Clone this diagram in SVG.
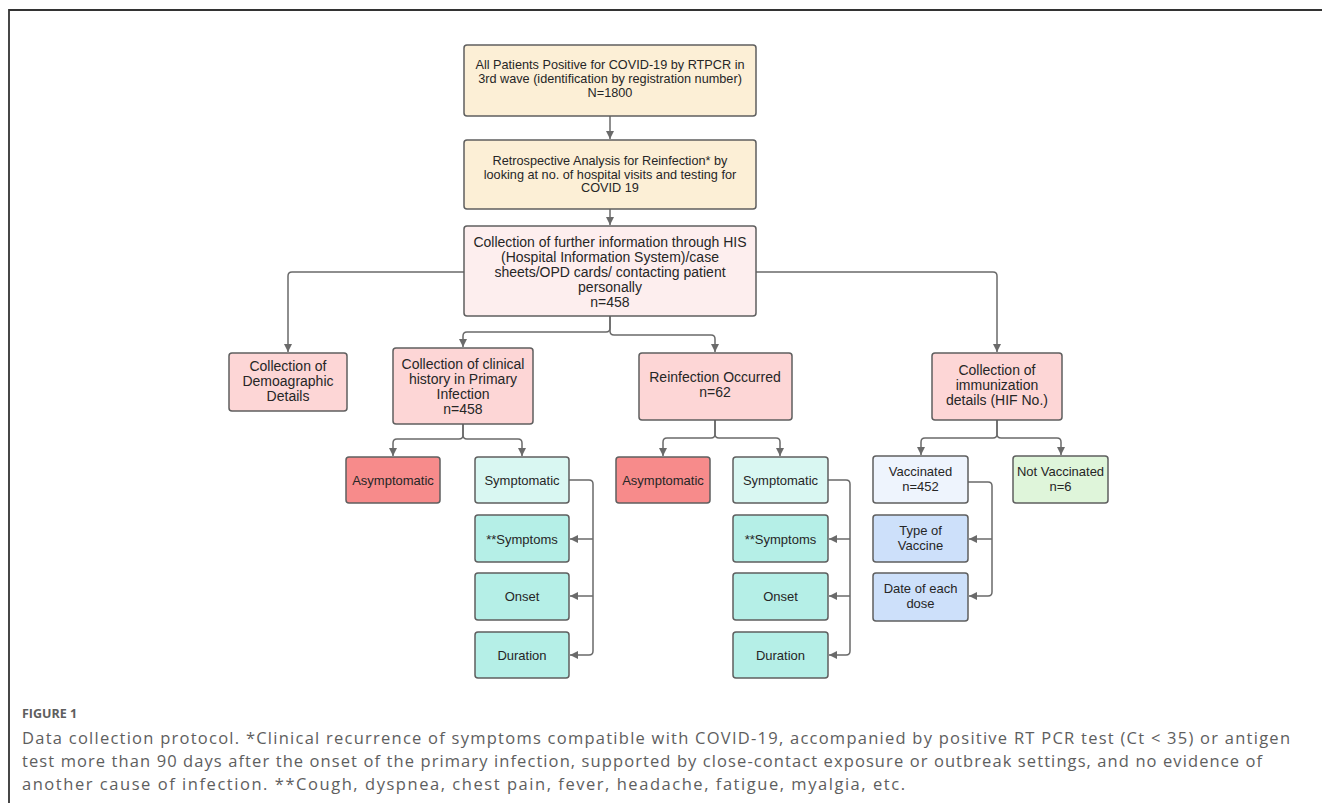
<svg xmlns="http://www.w3.org/2000/svg" width="1322" height="803" viewBox="0 0 1322 803">
<style>
.bx{stroke:#5f5f5f;stroke-width:1.5}
.t{font-family:"Liberation Sans",Arial,sans-serif;fill:#262626;text-anchor:middle}
.t12{font-size:12.7px}
.t13{font-size:13px}
.t14{font-size:14px}
.c{fill:none;stroke:#6a6a6a;stroke-width:1.5}
.peach{fill:#fcefd6}
.lpink{fill:#fdeeee}
.pink{fill:#fdd6d6}
.red{fill:#f78b8b}
.lcyan{fill:#d9f7f2}
.cyan{fill:#b5efe7}
.lblue{fill:#eef4fd}
.blue{fill:#cde0fa}
.green{fill:#dff5da}
.cap{font-family:"Open Sans","Liberation Sans",sans-serif;fill:#5e5e5e}
</style>
<defs>
<marker id="ah" viewBox="0 0 10 10" refX="10" refY="5" markerWidth="8" markerHeight="8" markerUnits="userSpaceOnUse" orient="auto">
<path d="M0,0 L10,5 L0,10 z" fill="#6a6a6a"/>
</marker>
</defs>
<rect width="1322" height="803" fill="#ffffff"/>
<path d="M9,803 V10 H1322" fill="none" stroke="#333" stroke-width="1.8"/>

<g id="connectors">
<path class="c" d="M610,116 V139" marker-end="url(#ah)"/>
<path class="c" d="M610,209 V225" marker-end="url(#ah)"/>
<path class="c" d="M464,272 H292 Q288,272 288,276 V352" marker-end="url(#ah)"/>
<path class="c" d="M756,272 H993 Q997,272 997,276 V352" marker-end="url(#ah)"/>
<path class="c" d="M610,316 V328 Q610,332 606,332 H467 Q463,332 463,336 V347" marker-end="url(#ah)"/>
<path class="c" d="M610,316 V331 Q610,335 614,335 H711 Q715,335 715,339 V352" marker-end="url(#ah)"/>
<path class="c" d="M463,424 V435 Q463,439 459,439 H397 Q393,439 393,443 V456" marker-end="url(#ah)"/>
<path class="c" d="M463,424 V435 Q463,439 467,439 H518 Q522,439 522,443 V456" marker-end="url(#ah)"/>
<path class="c" d="M715,420 V434 Q715,438 711,438 H667 Q663,438 663,442 V456" marker-end="url(#ah)"/>
<path class="c" d="M715,420 V434 Q715,438 719,438 H776 Q780,438 780,442 V456" marker-end="url(#ah)"/>
<path class="c" d="M997,420 V434 Q997,438 993,438 H925 Q921,438 921,442 V455" marker-end="url(#ah)"/>
<path class="c" d="M997,420 V434 Q997,438 1001,438 H1057 Q1061,438 1061,442 V455" marker-end="url(#ah)"/>
<path class="c" d="M569,480 H589 Q593,480 593,484 V651 Q593,655 589,655 H570" marker-end="url(#ah)"/>
<path class="c" d="M593,539 H570" marker-end="url(#ah)"/>
<path class="c" d="M593,596 H570" marker-end="url(#ah)"/>
<path class="c" d="M828,480 H846 Q850,480 850,484 V651 Q850,655 846,655 H829" marker-end="url(#ah)"/>
<path class="c" d="M850,539 H829" marker-end="url(#ah)"/>
<path class="c" d="M850,596 H829" marker-end="url(#ah)"/>
<path class="c" d="M968,482 H988 Q992,482 992,486 V592 Q992,596 988,596 H969" marker-end="url(#ah)"/>
<path class="c" d="M992,539 H969" marker-end="url(#ah)"/>
</g>

<g id="n-all">
<rect class="bx peach" x="464" y="45" width="292" height="71" rx="3"/>
<text class="t t12" x="610" y="69">All Patients Positive for COVID-19 by RTPCR in</text>
<text class="t t12" x="610" y="83">3rd wave (identification by registration number)</text>
<text class="t t12" x="610" y="97">N=1800</text>
</g>
<g id="n-retro">
<rect class="bx peach" x="464" y="140" width="292" height="69" rx="3"/>
<text class="t t12" x="610" y="165">Retrospective Analysis for Reinfection* by</text>
<text class="t t12" x="610" y="178.5">looking at no. of hospital visits and testing for</text>
<text class="t t12" x="610" y="192">COVID 19</text>
</g>
<g id="n-collect">
<rect class="bx lpink" x="464" y="226" width="292" height="90" rx="3"/>
<text class="t t14" x="610" y="247">Collection of further information through HIS</text>
<text class="t t14" x="610" y="262">(Hospital Information System)/case</text>
<text class="t t14" x="610" y="277">sheets/OPD cards/ contacting patient</text>
<text class="t t14" x="610" y="292">personally</text>
<text class="t t14" x="610" y="307">n=458</text>
</g>
<g id="n-demo">
<rect class="bx pink" x="229" y="353" width="118" height="58" rx="3"/>
<text class="t t14" x="288" y="371">Collection of</text>
<text class="t t14" x="288" y="386">Demoagraphic</text>
<text class="t t14" x="288" y="401">Details</text>
</g>
<g id="n-clinical">
<rect class="bx pink" x="393" y="348" width="140" height="76" rx="3"/>
<text class="t t14" x="463" y="369">Collection of clinical</text>
<text class="t t14" x="463" y="384">history in Primary</text>
<text class="t t14" x="463" y="399">Infection</text>
<text class="t t14" x="463" y="414">n=458</text>
</g>
<g id="n-reinf">
<rect class="bx pink" x="639" y="353" width="153" height="67" rx="3"/>
<text class="t t14" x="715" y="382">Reinfection Occurred</text>
<text class="t t14" x="715" y="397">n=62</text>
</g>
<g id="n-immun">
<rect class="bx pink" x="932" y="353" width="130" height="67" rx="3"/>
<text class="t t14" x="997" y="375">Collection of</text>
<text class="t t14" x="997" y="390">immunization</text>
<text class="t t14" x="997" y="405">details (HIF No.)</text>
</g>
<g id="n-asym1">
<rect class="bx red" x="346" y="457" width="94" height="46" rx="3"/>
<text class="t t13" x="393" y="484.5">Asymptomatic</text>
</g>
<g id="n-sym1">
<rect class="bx lcyan" x="475" y="457" width="94" height="46" rx="3"/>
<text class="t t13" x="522" y="484.5">Symptomatic</text>
</g>
<g id="n-symptoms1">
<rect class="bx cyan" x="475" y="515" width="94" height="47" rx="3"/>
<text class="t t13" x="522" y="543.5">**Symptoms</text>
</g>
<g id="n-onset1">
<rect class="bx cyan" x="475" y="573" width="94" height="47" rx="3"/>
<text class="t t13" x="522" y="600.5">Onset</text>
</g>
<g id="n-duration1">
<rect class="bx cyan" x="475" y="632" width="94" height="46" rx="3"/>
<text class="t t13" x="522" y="659.5">Duration</text>
</g>
<g id="n-asym2">
<rect class="bx red" x="616" y="457" width="94" height="46" rx="3"/>
<text class="t t13" x="663" y="484.5">Asymptomatic</text>
</g>
<g id="n-sym2">
<rect class="bx lcyan" x="733" y="457" width="95" height="46" rx="3"/>
<text class="t t13" x="780.5" y="484.5">Symptomatic</text>
</g>
<g id="n-symptoms2">
<rect class="bx cyan" x="733" y="515" width="95" height="47" rx="3"/>
<text class="t t13" x="780.5" y="543.5">**Symptoms</text>
</g>
<g id="n-onset2">
<rect class="bx cyan" x="733" y="573" width="95" height="47" rx="3"/>
<text class="t t13" x="780.5" y="600.5">Onset</text>
</g>
<g id="n-duration2">
<rect class="bx cyan" x="733" y="632" width="95" height="46" rx="3"/>
<text class="t t13" x="780.5" y="659.5">Duration</text>
</g>
<g id="n-vacc">
<rect class="bx lblue" x="873" y="456" width="95" height="47" rx="3"/>
<text class="t t13" x="920.5" y="475.5">Vaccinated</text>
<text class="t t13" x="920.5" y="490.5">n=452</text>
</g>
<g id="n-type">
<rect class="bx blue" x="873" y="515" width="95" height="47" rx="3"/>
<text class="t t13" x="920.5" y="534.5">Type of</text>
<text class="t t13" x="920.5" y="549.5">Vaccine</text>
</g>
<g id="n-date">
<rect class="bx blue" x="873" y="573" width="95" height="48" rx="3"/>
<text class="t t13" x="920.5" y="592.5">Date of each</text>
<text class="t t13" x="920.5" y="607.5">dose</text>
</g>
<g id="n-notvacc">
<rect class="bx green" x="1013" y="456" width="95" height="47" rx="3"/>
<text class="t t13" x="1060.5" y="475.5">Not Vaccinated</text>
<text class="t t13" x="1060.5" y="490.5">n=6</text>
</g>

<g id="caption">
<text class="cap" x="22" y="718" font-size="12.5" font-weight="bold">FIGURE 1</text>
<text class="cap" x="22" y="744" font-size="16.5" textLength="1268" lengthAdjust="spacing">Data collection protocol. *Clinical recurrence of symptoms compatible with COVID-19, accompanied by positive RT PCR test (Ct &lt; 35) or antigen</text>
<text class="cap" x="22" y="767" font-size="16.5" textLength="1240" lengthAdjust="spacing">test more than 90 days after the onset of the primary infection, supported by close-contact exposure or outbreak settings, and no evidence of</text>
<text class="cap" x="22" y="790" font-size="16.5" textLength="883" lengthAdjust="spacing">another cause of infection. **Cough, dyspnea, chest pain, fever, headache, fatigue, myalgia, etc.</text>
</g>
</svg>
